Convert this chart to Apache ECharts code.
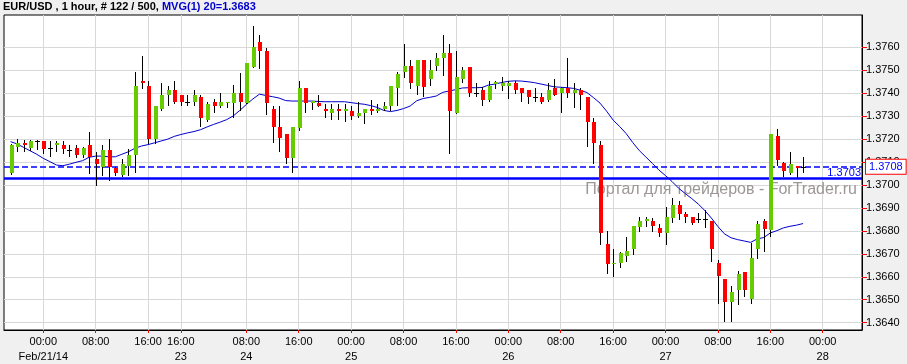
<!DOCTYPE html>
<html>
<head>
<meta charset="utf-8">
<script src="https://cdn.jsdelivr.net/npm/echarts@6/dist/echarts.min.js"></script>
<style>
html,body{margin:0;padding:0;background:#f0f0f0;}
#chart{width:907px;height:364px;}
</style>
</head>
<body>
<div id="chart"></div>
<script>
// ---- data (EUR/USD, 1 hour bars) ----
const symbol = 'EUR/USD';
const timeframe = '1 hour';
const historyTotal = 500;

const openPrices = [
1.37051,1.37164,1.37184,1.37163,1.37192,1.37192,1.37160,1.37174,1.37174,1.37152,
1.37160,1.37131,1.37174,1.37113,1.37080,1.37152,1.37074,1.37044,1.37083,1.37131,
1.37453,1.37433,1.37200,1.37330,1.37392,1.37414,1.37392,1.37360,1.37363,1.37382,
1.37283,1.37363,1.37344,1.37356,1.37356,1.37402,1.37356,1.37513,1.37624,1.37584,
1.37331,1.37254,1.37222,1.37116,1.37247,1.37421,1.37356,1.37359,1.37331,1.37315,
1.37331,1.37324,1.37322,1.37301,1.37315,1.37331,1.37324,1.37330,1.37344,1.37421,
1.37494,1.37517,1.37431,1.37545,1.37462,1.37517,1.37555,1.37574,1.37315,1.37462,
1.37516,1.37402,1.37414,1.37370,1.37440,1.37433,1.37433,1.37446,1.37421,1.37414,
1.37382,1.37382,1.37370,1.37421,1.37402,1.37421,1.37402,1.37414,1.37382,1.37276,
1.37174,1.36743,1.36654,1.36661,1.36692,1.36720,1.36816,1.36844,1.36843,1.36814,
1.36792,1.36855,1.36913,1.36874,1.36862,1.36851,1.36851,1.36843,1.36659,1.36590,
1.36492,1.36543,1.36620,1.36503,1.36721,1.36843,1.36804,1.37213,1.37095,1.37054,
1.37084,1.37080];

const closePrices = [
1.37174,1.37182,1.37176,1.37192,1.37192,1.37156,1.37160,1.37184,1.37156,1.37152,
1.37131,1.37160,1.37121,1.37091,1.37152,1.37077,1.37054,1.37090,1.37131,1.37431,
1.37446,1.37200,1.37344,1.37392,1.37414,1.37363,1.37363,1.37360,1.37392,1.37293,
1.37353,1.37346,1.37363,1.37363,1.37402,1.37363,1.37533,1.37603,1.37585,1.37356,
1.37251,1.37203,1.37116,1.37251,1.37421,1.37359,1.37366,1.37346,1.37324,1.37331,
1.37324,1.37331,1.37302,1.37314,1.37331,1.37324,1.37331,1.37344,1.37431,1.37484,
1.37517,1.37446,1.37545,1.37428,1.37501,1.37552,1.37574,1.37324,1.37472,1.37501,
1.37402,1.37402,1.37370,1.37433,1.37450,1.37443,1.37446,1.37414,1.37402,1.37385,
1.37382,1.37363,1.37414,1.37392,1.37421,1.37402,1.37414,1.37392,1.37276,1.37184,
1.36792,1.36654,1.36661,1.36705,1.36712,1.36821,1.36843,1.36852,1.36821,1.36790,
1.36862,1.36913,1.36874,1.36862,1.36833,1.36851,1.36851,1.36721,1.36605,1.36492,
1.36532,1.36612,1.36543,1.36683,1.36830,1.36807,1.37221,1.37109,1.37062,1.37091,
1.37075,1.37080];

const lowPrices = [
1.37048,1.37149,1.37149,1.37152,1.37156,1.37141,1.37126,1.37149,1.37141,1.37126,
1.37121,1.37121,1.37051,1.37000,1.37044,1.37022,1.37044,1.37039,1.37044,1.37058,
1.37421,1.37182,1.37182,1.37327,1.37349,1.37359,1.37349,1.37349,1.37349,1.37257,
1.37280,1.37319,1.37341,1.37341,1.37298,1.37327,1.37356,1.37513,1.37511,1.37309,
1.37189,1.37149,1.37095,1.37058,1.37240,1.37319,1.37330,1.37346,1.37298,1.37289,
1.37289,1.37280,1.37286,1.37298,1.37271,1.37308,1.37319,1.37327,1.37327,1.37349,
1.37469,1.37421,1.37396,1.37388,1.37436,1.37501,1.37479,1.37141,1.37312,1.37450,
1.37388,1.37388,1.37349,1.37366,1.37421,1.37414,1.37380,1.37400,1.37367,1.37359,
1.37367,1.37359,1.37367,1.37392,1.37319,1.37382,1.37341,1.37330,1.37170,1.37097,
1.36743,1.36618,1.36604,1.36641,1.36670,1.36699,1.36801,1.36821,1.36801,1.36778,
1.36743,1.36840,1.36851,1.36840,1.36830,1.36840,1.36818,1.36670,1.36487,1.36407,
1.36407,1.36480,1.36518,1.36487,1.36681,1.36714,1.36778,1.37087,1.37041,1.37048,
1.37036,1.37058];

const highPrices = [
1.37177,1.37199,1.37196,1.37196,1.37194,1.37193,1.37192,1.37192,1.37192,1.37174,
1.37174,1.37164,1.37232,1.37145,1.37174,1.37199,1.37077,1.37112,1.37156,1.37494,
1.37562,1.37453,1.37344,1.37446,1.37433,1.37453,1.37392,1.37392,1.37414,1.37392,
1.37363,1.37373,1.37402,1.37363,1.37436,1.37487,1.37533,1.37693,1.37653,1.37596,
1.37344,1.37344,1.37222,1.37251,1.37453,1.37421,1.37366,1.37392,1.37353,1.37353,
1.37353,1.37353,1.37344,1.37363,1.37331,1.37370,1.37353,1.37363,1.37431,1.37494,
1.37614,1.37546,1.37546,1.37545,1.37546,1.37574,1.37653,1.37614,1.37585,1.37516,
1.37516,1.37446,1.37428,1.37453,1.37453,1.37469,1.37453,1.37453,1.37421,1.37414,
1.37421,1.37402,1.37446,1.37460,1.37428,1.37555,1.37446,1.37421,1.37382,1.37291,
1.37193,1.36801,1.36721,1.36709,1.36775,1.36821,1.36862,1.36862,1.36858,1.36830,
1.36903,1.36942,1.36930,1.36884,1.36862,1.36879,1.36890,1.36843,1.36673,1.36590,
1.36561,1.36627,1.36620,1.36749,1.36843,1.36852,1.37221,1.37244,1.37102,1.37142,
1.37084,1.37123];

// 20-period moving average as drawn on the chart
const maValues = [
1.37189,1.37179,1.37164,1.37149,1.37134,1.37116,1.37102,1.37087,1.37084,1.37091,
1.37099,1.37106,1.37121,1.37126,1.37126,1.37123,1.37123,1.37134,1.37145,1.37160,
1.37170,1.37176,1.37184,1.37192,1.37200,1.37212,1.37220,1.37227,1.37233,1.37241,
1.37253,1.37264,1.37274,1.37285,1.37301,1.37325,1.37351,1.37375,1.37396,1.37390,
1.37385,1.37379,1.37368,1.37366,1.37366,1.37366,1.37366,1.37364,1.37363,1.37363,
1.37363,1.37363,1.37359,1.37355,1.37352,1.37346,1.37338,1.37325,1.37320,1.37325,
1.37333,1.37344,1.37367,1.37377,1.37382,1.37388,1.37404,1.37410,1.37416,1.37423,
1.37424,1.37424,1.37425,1.37436,1.37440,1.37447,1.37452,1.37454,1.37453,1.37450,
1.37446,1.37440,1.37434,1.37428,1.37426,1.37424,1.37421,1.37413,1.37403,1.37381,
1.37357,1.37322,1.37283,1.37255,1.37224,1.37185,1.37150,1.37122,1.37094,1.37065,
1.37041,1.37015,1.36986,1.36963,1.36941,1.36917,1.36889,1.36856,1.36819,1.36787,
1.36770,1.36762,1.36756,1.36750,1.36765,1.36771,1.36791,1.36801,1.36813,1.36820,
1.36825,1.36832];

const maPeriod = 20;
const levelPrice = 1.3703;        // horizontal level line
const lastPrice = closePrices[closePrices.length - 1];

// x axis tick positions (bar index) and their labels
const tickBar  = [5, 13, 21, 26, 36, 44, 52, 60, 68, 76, 84, 92, 100, 108, 116, 124];
const tickTime = ['00:00','08:00','16:00','16:00','08:00','16:00','00:00','08:00','16:00','00:00','08:00','16:00','00:00','08:00','16:00','00:00'];
const tickDate = ['Feb/21/14','','','23','24','','25','','','26','','','27','','','28'];

// y axis tick labels
const yTicks = [1.3640,1.3650,1.3660,1.3670,1.3680,1.3690,1.3700,1.3710,1.3720,1.3730,1.3740,1.3750,1.3760];
const yMin = 1.36368, yMax = 1.37741;

const watermark = 'Портал для трейдеров - ForTrader.ru';

// ---- build ----
const totalSlots = 132;               // one leading empty slot + bars + empty future slots
const categories = [];
for (let k = 0; k < totalSlots; k++) categories.push(String(k));

const candleData = openPrices.map((o, i) => [i + 1, o, closePrices[i], lowPrices[i], highPrices[i]]);
const maData = maValues.map((v, i) => [i + 1, v]);

const tickMap = {};
tickBar.forEach((b, j) => { tickMap[b + 1] = tickDate[j] ? tickTime[j] + '\n' + tickDate[j] : tickTime[j]; });
const isTick = (index) => tickMap[index] !== undefined;

const FONT = '"Liberation Sans", Arial, sans-serif';
const UP = '#66cc00', DOWN = '#ff0000';

const chart = echarts.init(document.getElementById('chart'), null, {renderer: 'canvas'});

chart.setOption({
  animation: false,
  backgroundColor: '#f0f0f0',
  textStyle: {fontFamily: FONT},
  title: {
    left: 3, top: 1, padding: 0,
    text: '{a|' + symbol + ' , ' + timeframe + ', # ' + openPrices.length + ' / ' + historyTotal + ', }{b|MVG(1) ' + maPeriod + '=' + maValues[maValues.length - 1].toFixed(4) + '}',
    textStyle: {
      rich: {
        a: {color: '#000', fontSize: 11, fontFamily: FONT},
        b: {color: '#0000cc', fontSize: 11, fontFamily: FONT}
      }
    }
  },
  graphic: [{
    type: 'text', right: 50, top: 182, z: 1, silent: true,
    style: {text: watermark, fill: '#9e9696', font: '16px ' + FONT}
  }],
  grid: {
    left: 4, right: 45, top: 15, bottom: 34,
    show: true, backgroundColor: '#ffffff', borderColor: '#000', borderWidth: 1
  },
  xAxis: {
    type: 'category', data: categories, boundaryGap: false,
    axisLine: {show: true, lineStyle: {color: '#000', width: 1}},
    axisTick: {show: true, interval: isTick, length: 3, lineStyle: {color: '#ff0000'}},
    splitLine: {show: true, interval: isTick, lineStyle: {color: '#d8d8d8', width: 1}},
    axisLabel: {
      show: true, interval: isTick, margin: 5,
      color: '#000', fontSize: 11, fontFamily: FONT, lineHeight: 14.5,
      verticalAlign: 'top',
      formatter: (v, idx) => tickMap[idx] || ''
    }
  },
  yAxis: {
    type: 'value', position: 'right', min: yMin, max: yMax, splitNumber: 13, scale: true,
    axisLine: {show: true, lineStyle: {color: '#000', width: 1}},
    axisTick: {show: true, length: 5, lineStyle: {color: '#ff0000'}, customValues: yTicks},
    splitLine: {show: true, lineStyle: {color: '#d8d8d8', width: 1}},
    axisLabel: {
      show: true, margin: 4, color: '#000', fontSize: 11, fontFamily: FONT,
      customValues: yTicks,
      formatter: (v) => (v < 1.36395 || v > 1.37605) ? '' : v.toFixed(4)
    }
  },
  series: [
    {
      type: 'line', name: 'MVG', data: maData, z: 3,
      showSymbol: false, symbol: 'none', silent: true,
      lineStyle: {color: '#0000cc', width: 1},
      markLine: {
        silent: true, symbol: ['none', 'none'], z: 4, animation: false, precision: 5,
        data: [
          {
            yAxis: lastPrice,
            lineStyle: {color: '#0000ff', type: [6, 3], width: 1.5},
            label: {
              show: true, position: 'end', distance: 4,
              formatter: lastPrice.toFixed(4),
              color: '#0000ff', fontSize: 11, fontFamily: FONT,
              backgroundColor: '#ffffff', borderColor: '#ff0000', borderWidth: 1,
              padding: [2, 3, 1, 3]
            }
          },
          {
            yAxis: levelPrice,
            lineStyle: {color: '#0000ff', type: 'solid', width: 2.5},
            label: {
              show: true, position: 'insideEndTop', distance: [1, 0],
              formatter: levelPrice.toFixed(4),
              color: '#0000ff', fontSize: 11, fontFamily: FONT
            }
          }
        ]
      }
    },
    {
      type: 'custom', name: symbol, data: candleData, z: 6, silent: true,
      encode: {x: 0, y: [1, 2, 3, 4]},
      renderItem: function (params, api) {
        const xi = api.value(0);
        const o = api.value(1), c = api.value(2), l = api.value(3), h = api.value(4);
        const pO = api.coord([xi, o]);
        const pC = api.coord([xi, c]);
        const pL = api.coord([xi, l]);
        const pH = api.coord([xi, h]);
        const cx = Math.round(pO[0]);
        const children = [{
          type: 'line',
          shape: {x1: cx + 0.5, y1: Math.round(pH[1]), x2: cx + 0.5, y2: Math.round(pL[1]) + 1},
          style: {stroke: '#000', lineWidth: 1}
        }];
        if (o === c) {
          const y = Math.round(pO[1]) + 0.5;
          children.push({type: 'line', shape: {x1: cx - 2, y1: y, x2: cx + 3, y2: y}, style: {stroke: '#000', lineWidth: 1}});
        } else {
          const top = Math.round(Math.min(pO[1], pC[1]));
          const bot = Math.round(Math.max(pO[1], pC[1]));
          children.push({
            type: 'rect',
            shape: {x: cx - 1, y: top, width: 4, height: Math.max(1, bot - top)},
            style: {fill: c > o ? UP : DOWN, stroke: null}
          });
        }
        return {type: 'group', children: children};
      }
    }
  ]
});
</script>
</body>
</html>
